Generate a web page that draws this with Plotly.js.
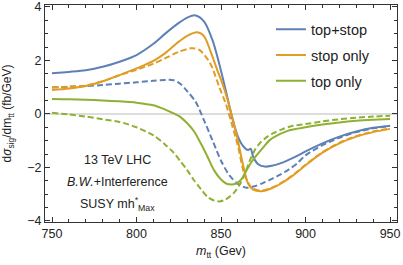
<!DOCTYPE html>
<html><head><meta charset="utf-8">
<script src="https://cdn.plot.ly/plotly-3.0.1.min.js"></script>
<style>html,body{margin:0;padding:0;background:#fff}#chart{width:403px;height:265px}</style>
</head><body><div id="chart"></div>
<script>
// top+stop, solid
const blueSolidM = [750,760,770,780,790,800,810,817,825,830,835,840,845,848,851,854,857,860,863,866,867.5,869,872,876,880,885,890,895,900,910,920,930,940,950];
const blueSolidV = [1.52,1.57,1.63,1.76,1.95,2.2,2.62,3.0,3.4,3.6,3.68,3.45,2.75,2.1,1.35,0.55,-0.25,-0.85,-1.2,-1.35,-1.3,-1.6,-1.88,-1.97,-1.94,-1.85,-1.72,-1.57,-1.4,-1.1,-0.85,-0.66,-0.52,-0.44];
// top+stop, dashed
const blueDashM = [750,760,770,780,790,800,810,817,822,826,830,835,840,845,850,855,860,865,870,875,880,885,890,895,900,910,920,930,940,950];
const blueDashV = [0.99,1.01,1.04,1.08,1.13,1.18,1.24,1.27,1.26,1.12,0.85,0.45,-0.25,-1.0,-1.75,-2.3,-2.62,-2.76,-2.7,-2.58,-2.43,-2.27,-2.08,-1.85,-1.55,-1.17,-0.89,-0.68,-0.54,-0.45];
// stop only, solid
const orangeSolidM = [750,760,770,780,790,800,810,817,825,830,836,840,844,848,851,854,857,860,863,866,869,874,880,885,890,895,900,910,920,930,940,950];
const orangeSolidV = [0.89,0.95,1.04,1.22,1.45,1.7,1.98,2.27,2.7,2.92,3.05,2.9,2.3,1.6,1.1,0.5,-0.2,-1.0,-1.9,-2.6,-2.83,-2.89,-2.78,-2.62,-2.42,-2.18,-1.92,-1.45,-1.1,-0.85,-0.68,-0.56];
// stop only, dashed
const orangeDashM = [750,760,770,780,790,800,810,817,825,832,837,843.5,849,853,856,860,864,868,873,880,885,890,895,900,910,920,930,940,950];
const orangeDashV = [1.0,1.02,1.06,1.22,1.45,1.65,1.88,2.08,2.32,2.45,2.4,1.9,1.0,0.35,-0.3,-1.2,-2.3,-2.75,-2.87,-2.76,-2.6,-2.4,-2.16,-1.9,-1.43,-1.08,-0.83,-0.66,-0.54];
// top only, solid
const greenSolidM = [750,760,770,780,790,800,810,817,822,826,830,834,838,842,846,850,853,856,859,862,865,868,871,875,879,885,891,900,910,920,930,940,950];
const greenSolidV = [0.56,0.55,0.53,0.5,0.47,0.42,0.32,0.16,0.02,-0.12,-0.35,-0.65,-1.1,-1.6,-2.12,-2.45,-2.6,-2.64,-2.6,-2.45,-2.12,-1.8,-1.55,-1.25,-0.97,-0.75,-0.6,-0.5,-0.4,-0.32,-0.26,-0.22,-0.19];
// top only, dashed
const greenDashM = [750,760,770,780,790,800,810,817,822,826,830,834,838,842,846,849,852,855,858,861,864,867,870,873,877,881,886,891,900,910,920,930,940,950];
const greenDashV = [0.04,-0.02,-0.1,-0.2,-0.3,-0.5,-0.8,-1.15,-1.45,-1.77,-2.1,-2.48,-2.8,-3.1,-3.24,-3.27,-3.22,-3.1,-2.92,-2.65,-2.25,-1.75,-1.35,-1.09,-0.87,-0.72,-0.58,-0.47,-0.38,-0.28,-0.2,-0.14,-0.1,-0.07];

const seriesNames = ['top+stop','stop only','top only'];
const xTickVals = [750,800,850,900,950];
const yTickVals = [-4,-2,0,2,4];

const BLUE='#5E81B5', ORANGE='#E19C24', GREEN='#8FB032';
const FONT='Liberation Sans, Arial, sans-serif';

function tr(x,y,color,dash,name,show,group){
  return {x:x,y:y,type:'scatter',mode:'lines',name:name,showlegend:show,legendgroup:group,
    line:{color:color,width:2,dash:dash,shape:'spline',smoothing:0.8},hoverinfo:'skip'};
}
const data=[
  tr(blueDashM,blueDashV,BLUE,'6px,3px','',false,'a'),
  tr(orangeDashM,orangeDashV,ORANGE,'6px,3px','',false,'b'),
  tr(greenDashM,greenDashV,GREEN,'6px,3px','',false,'c'),
  tr(blueSolidM,blueSolidV,BLUE,'solid',seriesNames[0],true,'a'),
  tr(orangeSolidM,orangeSolidV,ORANGE,'solid',seriesNames[1],true,'b'),
  tr(greenSolidM,greenSolidV,GREEN,'solid',seriesNames[2],true,'c')
];
const axCommon={showline:true,linecolor:'#333',linewidth:1,mirror:'ticks',ticks:'inside',ticklen:5,tickwidth:1,tickcolor:'#333',
  showgrid:false,tickfont:{family:FONT,size:12.5,color:'#222'}};
const annFont={family:FONT,size:12.5,color:'#222'};
const layout={
  width:403,height:265,margin:{l:45,r:6,t:5,b:43},
  paper_bgcolor:'#fff',plot_bgcolor:'#fff',
  font:{family:FONT,color:'#222'},
  showlegend:true,
  legend:{x:0.642,y:0.962,xanchor:'left',yanchor:'top',bgcolor:'rgba(0,0,0,0)',font:{family:FONT,size:14.5,color:'#222'},
    traceorder:'grouped',tracegroupgap:4},
  xaxis:Object.assign({},axCommon,{range:[745.86,954.1],tickvals:xTickVals,zeroline:false,
    minor:{dtick:10,tick0:750,ticks:'inside',ticklen:3,tickcolor:'#333'},
    title:{text:'<i>m</i><sub>tt</sub> (Gev)',font:{family:FONT,size:12.5,color:'#222'},standoff:6}}),
  yaxis:Object.assign({},axCommon,{range:[-4.04,4.07],tickvals:yTickVals,zeroline:true,zerolinecolor:'#dddddd',zerolinewidth:1.5,
    minor:{dtick:0.5,tick0:0,ticks:'inside',ticklen:3,tickcolor:'#333'},
    title:{text:'d<i>σ</i><sub>sig</sub>/dm<sub>tt</sub> (fb/GeV)',font:{family:FONT,size:12,color:'#222'},standoff:14}}),
  annotations:[
    {xref:'paper',yref:'paper',x:0.207,y:0.286,xanchor:'center',yanchor:'middle',text:'13 TeV LHC',showarrow:false,font:annFont},
    {xref:'paper',yref:'paper',x:0.207,y:0.184,xanchor:'center',yanchor:'middle',text:'<i>B.W.</i>+Interference',showarrow:false,font:annFont},
    {xref:'paper',yref:'paper',x:0.207,y:0.085,xanchor:'center',yanchor:'middle',text:'SUSY mh<sup>*</sup><sub>Max</sub>',showarrow:false,font:annFont}
  ]
};
Plotly.newPlot('chart',data,layout,{staticPlot:true,displayModeBar:false});
</script></body></html>
